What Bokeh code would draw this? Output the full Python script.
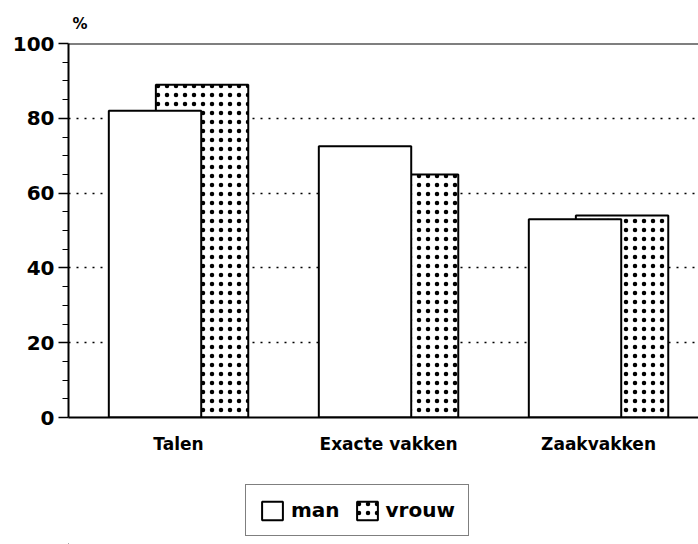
from bokeh.plotting import figure
from bokeh.layouts import column
from bokeh.models import (ColumnDataSource, FixedTicker, Span, Legend,
                          LegendItem, Range1d)
from bokeh.embed import file_html
from bokeh.resources import INLINE

categories = ["Talen", "Exacte vakken", "Zaakvakken"]
man = [82, 72.5, 53]
vrouw = [89, 65, 54]
y_ticks = [0, 20, 40, 60, 80, 100]
y_minor = [5, 10, 15, 25, 30, 35, 45, 50, 55, 65, 70, 75, 85, 90, 95]

pos = list(range(len(categories)))
src = ColumnDataSource(dict(
    man_x=[p_ - 0.112 for p_ in pos],
    vrouw_x=[p_ + 0.112 for p_ in pos],
    man=man, vrouw=vrouw))

FONT = "DejaVu Sans"
W = 698

MAN_STYLE = dict(fill_color="white", line_color="black", line_width=2)
VROUW_STYLE = dict(fill_color="white", line_color="black", line_width=2,
                   hatch_pattern="dot", hatch_color="black", hatch_scale=9,
                   hatch_weight=0.35)

p = figure(width=W, height=467, output_backend="svg", toolbar_location=None,
           x_range=Range1d(-0.524, 2.476), y_range=Range1d(0, 100),
           min_border_left=68, min_border_right=0, min_border_top=43,
           min_border_bottom=50, title="%", title_location="above")
p.outline_line_color = None
p.background_fill_color = "white"
p.border_fill_color = "white"

p.title.text_font = FONT
p.title.text_font_style = "bold"
p.title.text_font_size = "15px"
p.title.text_color = "black"
p.title.align = "left"
p.title.offset = 4
p.title.standoff = 21

vr = p.vbar(x="vrouw_x", top="vrouw", width=0.44, source=src, **VROUW_STYLE)
mr = p.vbar(x="man_x", top="man", width=0.44, source=src, **MAN_STYLE)

# top line
p.add_layout(Span(location=100, dimension="width", line_color="black",
                  line_width=2))

# y axis
yax = p.yaxis[0]
yax.ticker = FixedTicker(ticks=y_ticks, minor_ticks=y_minor)
yax.axis_line_width = 2
yax.major_tick_out = 10
yax.major_tick_in = 0
yax.minor_tick_out = 6
yax.minor_tick_in = 0
yax.major_tick_line_width = 1.5
yax.minor_tick_line_width = 1.2
yax.major_label_standoff = 4
yax.major_label_text_font = FONT
yax.major_label_text_font_style = "bold"
yax.major_label_text_font_size = "20px"
yax.major_label_text_color = "black"

# x axis
xax = p.xaxis[0]
xax.ticker = FixedTicker(ticks=pos)
xax.major_label_overrides = {i: c for i, c in enumerate(categories)}
xax.axis_line_width = 2
xax.major_tick_line_color = None
xax.minor_tick_line_color = None
xax.major_label_standoff = 10
xax.major_label_text_font = FONT
xax.major_label_text_font_style = "bold"
xax.major_label_text_font_size = "17px"
xax.major_label_text_color = "black"

# grid
p.xgrid.grid_line_color = None
p.ygrid.ticker = FixedTicker(ticks=y_ticks)
p.ygrid.grid_line_color = "black"
p.ygrid.grid_line_width = 1.5
p.ygrid.grid_line_dash = "2 6"

# legend strip below the chart (proxy glyphs sit outside its visible range)
p2 = figure(width=W, height=77, output_backend="svg", toolbar_location=None,
            x_range=Range1d(0, 1), y_range=Range1d(0, 1),
            x_axis_location=None, y_axis_location=None, min_border=0)
p2.outline_line_color = None
p2.xgrid.grid_line_color = None
p2.ygrid.grid_line_color = None
proxy = ColumnDataSource(dict(x=[-50], top=[-50]))
lm = p2.vbar(x="x", top="top", bottom=-60, width=0.1, source=proxy, **MAN_STYLE)
lv = p2.vbar(x="x", top="top", bottom=-60, width=0.1, source=proxy, **VROUW_STYLE)

legend = Legend(items=[LegendItem(label="man", renderers=[lm]),
                       LegendItem(label="vrouw", renderers=[lv])],
                orientation="horizontal", location=(177, 8),
                glyph_width=26, glyph_height=23, label_standoff=6,
                spacing=14, padding=13, margin=0,
                border_line_color="black", border_line_width=1.5,
                label_text_font=FONT, label_text_font_style="bold",
                label_text_font_size="20px", label_text_color="black",
                background_fill_alpha=1)
p2.add_layout(legend, "center")

open("out.html", "w").write(file_html(column(p, p2, spacing=0), INLINE))
